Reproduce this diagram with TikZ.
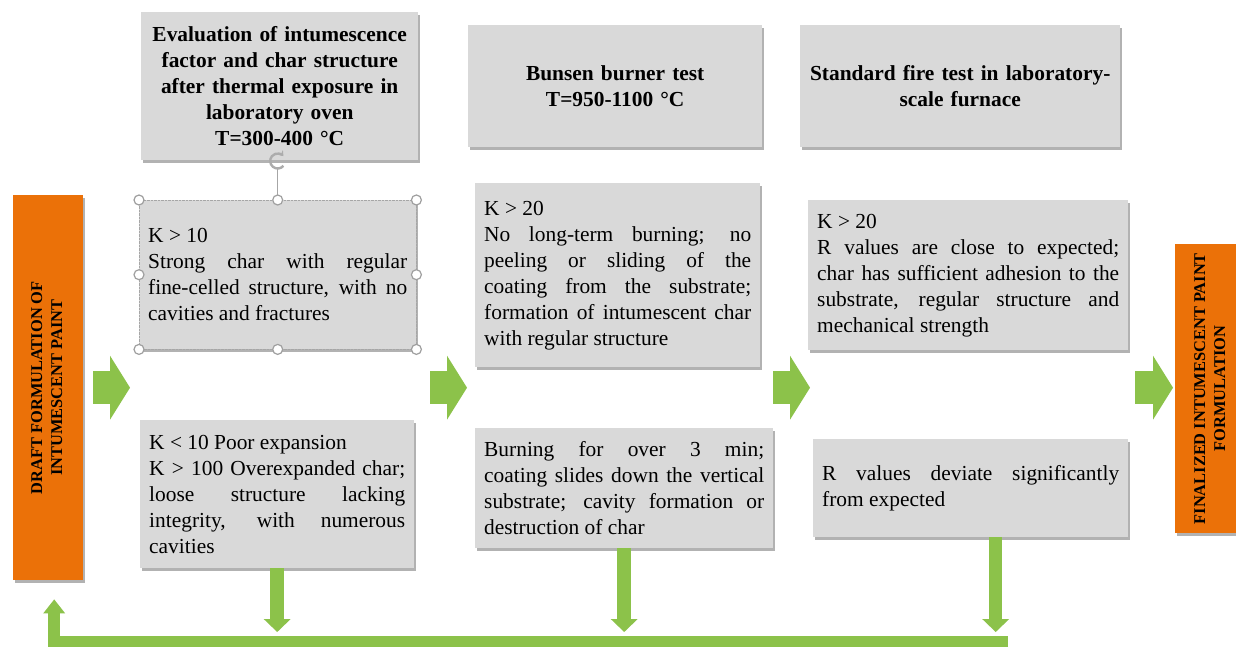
\documentclass[tikz,border=0pt]{standalone}
\usepackage{fontspec}
\setmainfont{Liberation Serif}
\usetikzlibrary{arrows.meta,shadows}
\definecolor{boxgray}{RGB}{217,217,217}
\definecolor{barorange}{RGB}{235,113,8}
\definecolor{stepgreen}{RGB}{140,194,74}
\newcommand\barlabel[1]{\rotatebox{90}{\begin{tabular}{@{}c@{}}#1\end{tabular}}}
\begin{document}
\begin{tikzpicture}[x=1pt,y=-1pt,
  textbox/.style={fill=boxgray, anchor=north west, inner xsep=9pt, inner ysep=0pt,
    drop shadow={shadow xshift=2pt, shadow yshift=-2.5pt, opacity=.3, fill=black},
    font=\fontsize{21.4}{26}\selectfont},
  headbox/.style={textbox, align=center, font=\fontsize{21.4}{26}\selectfont\bfseries},
  notebox/.style={textbox, align=justify},
  barbox/.style={fill=barorange, anchor=north west, inner sep=0pt,
    drop shadow={shadow xshift=2pt, shadow yshift=-2.5pt, opacity=.3, fill=black},
    font=\fontsize{16.4}{20}\selectfont\bfseries},
  fwd/.style={stepgreen, line width=33pt, -{Triangle[width=64pt,length=20pt,line width=0pt]}},
  fall/.style={stepgreen, line width=13.5pt, shorten >=9.5pt, -{Triangle[width=27pt,length=13pt,line width=0pt]}},
  loopback/.style={stepgreen, line width=11.5pt, -{Triangle[width=22pt,length=14pt,line width=0pt]}},
  handle/.style={draw=gray!75, fill=white, line width=1.2pt}]
  \fill[white, use as bounding box] (0,0) rectangle (1236,647);
  \node[barbox, minimum width=70pt, minimum height=385pt] (draft) at (13,195)
    {\barlabel{DRAFT FORMULATION OF\\INTUMESCENT PAINT}};
  \node[barbox, minimum width=72pt, minimum height=289pt] (final) at (1175,244)
    {\barlabel{FINALIZED INTUMESCENT PAINT\\FORMULATION}};
  \node[headbox, inner xsep=3pt, text width=271pt, minimum height=148pt] (h1) at (141,12)
    {Evaluation of intumescence\\factor and char structure\\after thermal exposure in\\laboratory oven\\T=300-400 °C};
  \node[headbox, text width=276pt, minimum height=122pt] (h2) at (468,25)
    {Bunsen burner test\\T=950-1100 °C};
  \node[headbox, inner xsep=5pt, text width=310pt, minimum height=122pt] (h3) at (800,25)
    {Standard fire test in laboratory-\\scale furnace};
  \node[notebox, text width=259pt, minimum height=149pt] (up1) at (139,200)
    {K > 10\\Strong char with regular\linebreak fine-celled structure, with no\linebreak cavities and fractures};
  \node[notebox, text width=256pt, minimum height=148pt] (lo1) at (140,420)
    {K < 10 Poor expansion\\K > 100 Overexpanded char;\linebreak loose structure lacking\linebreak integrity, with numerous\linebreak cavities};
  \node[notebox, text width=267pt, minimum height=184pt] (up2) at (475,183)
    {K > 20\\No long-term burning; no\linebreak peeling or sliding of the\linebreak coating from the substrate;\linebreak formation of intumescent char\linebreak with regular structure};
  \node[notebox, text width=280pt, minimum height=120pt] (lo2) at (475,428)
    {Burning for over 3 min;\linebreak coating slides down the vertical\linebreak substrate; cavity formation or\linebreak destruction of char};
  \node[notebox, text width=302pt, minimum height=150pt] (up3) at (808,200)
    {K > 20\\R values are close to expected;\linebreak char has sufficient adhesion to the\linebreak substrate, regular structure and\linebreak mechanical strength};
  \node[notebox, text width=297pt, minimum height=98pt] (lo3) at (813,439)
    {R values deviate significantly\linebreak from expected};
  \foreach \a/\b/\s/\e in {draft/up1/10/-9, up1/up2/14/-8, lo2/up3/0/2, up3/final/7/-2}
    \draw[fwd] ([xshift=\s pt]\a.east |- draft.east) -- ([xshift=\e pt]\b.west |- draft.east);
  \coordinate (fb) at (1008,641.5);
  \foreach \n/\s in {lo1/0, lo2/0, lo3/25}
    \draw[fall] ([xshift=\s pt]\n.south) -- ([xshift=\s pt]\n.south |- fb);
  \draw[loopback] (fb) -| ([xshift=6pt,yshift=-19pt]draft.south);
  \draw[gray!70, densely dotted] (up1.north west) rectangle (up1.south east);
  \draw[gray!70, line width=1pt] (up1.north) -- ++(0,-31);
  \draw[gray!65, line width=2.4pt, -{Stealth[length=5pt,width=7pt]}]
    ([yshift=39pt]up1.north) ++(40:7.5) arc[start angle=40, end angle=320, radius=7.5];
  \foreach \p in {north west,north,north east,west,east,south west,south,south east}
    \draw[handle] (up1.\p) circle[radius=5];
\end{tikzpicture}
\end{document}
